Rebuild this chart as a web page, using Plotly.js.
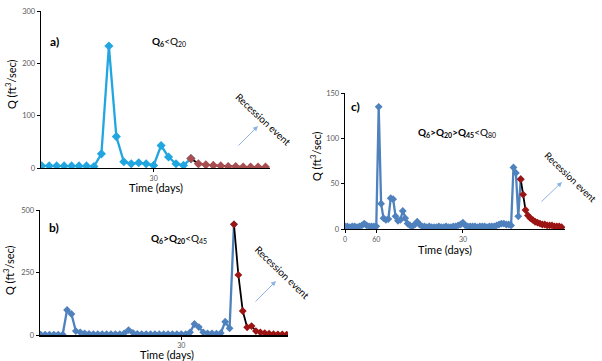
<!DOCTYPE html>
<html>
<head>
<meta charset="utf-8">
<script src="https://cdn.plot.ly/plotly-3.0.1.min.js"></script>
<style>
  html, body { margin: 0; padding: 0; background: #fff; }
  #chart { width: 602px; height: 361px; }
</style>
</head>
<body>
<div id="chart"></div>
<script>
// Daily discharge, ft³/sec, one value per day for each of the three cases
const flowA = [4, 4, 4, 4, 4, 4, 4, 3, 27, 233, 60, 12, 8, 10, 8, 5, 43, 21, 8, 5,
               18, 8, 6, 5, 4, 3, 3, 2, 2, 2, 2];
const flowB = [3, 3, 3, 3, 3, 3, 101, 85, 17, 12, 8, 6, 5, 5, 5, 5, 5, 5, 5, 8,
               21, 10, 6, 5, 5, 5, 5, 5, 5, 5, 5, 5, 5, 5, 12, 45, 33, 12, 8, 8,
               7, 9, 54, 28, 443, 241, 97, 32, 37, 17, 12, 9, 7, 5, 4, 4, 3];
const flowC = [3, 3, 2, 3, 3, 2, 3, 4, 6, 4, 3, 3, 3, 3, 135, 28, 12, 10, 11, 34,
               33, 14, 9, 10, 20, 12, 6, 4, 3, 5, 8, 5, 3, 3, 2, 3, 2, 2, 2, 3,
               2, 2, 3, 2, 2, 3, 3, 4, 5, 7, 4, 3, 3, 3, 3, 2, 3, 3, 3, 2,
               3, 3, 3, 4, 5, 6, 6, 5, 5, 4, 68, 62, 14, 55, 38, 21, 15, 12, 10, 8,
               7, 6, 5, 5, 4, 4, 4, 3, 3, 3, 2];

// Day on which the recession limb begins in each case
const recessionStartA = 20;
const recessionStartB = 44;
const recessionStartC = 73;

// Tick positions (day index) and their labels
const tickDaysA = [15];
const tickTextA = ['30'];
const tickDaysB = [32];
const tickTextB = ['30'];
const tickDaysC = [0, 13, 49];
const tickTextC = ['0', '60', '30'];

const yTicksA = [0, 100, 200, 300];
const yTicksB = [0, 250, 500];
const yTicksC = [0, 50, 100, 150];

const W = 602, H = 361;
const px = x => x / W;
const py = y => 1 - y / H;

const FONT = 'Lato, "Open Sans", sans-serif';

function splitSeries(values, start) {
  const before = values.map((v, i) => (i <= start ? v : null));
  const after = values.map((v, i) => (i >= start ? v : null));
  return [before, after];
}

function panelTraces(values, start, xa, ya, blue, red, msize) {
  const [rise, recession] = splitSeries(values, start);
  return [
    {
      y: rise, xaxis: xa, yaxis: ya, type: 'scatter', mode: 'lines+markers',
      line: { color: blue, width: 2.3 },
      marker: { symbol: 'diamond', size: msize, color: blue },
      hoverinfo: 'skip', showlegend: false
    },
    {
      y: recession, xaxis: xa, yaxis: ya, type: 'scatter', mode: 'lines+markers',
      line: { color: '#000000', width: 1.8 },
      marker: { symbol: 'diamond', size: msize, color: red },
      hoverinfo: 'skip', showlegend: false
    }
  ];
}

const blueA = '#22A6E0', redA = '#A84E50';
const blueBC = '#4F81BD', redBC = '#9C1414';

const data = [
  ...panelTraces(flowA, recessionStartA, 'x', 'y', blueA, redA, 7),
  ...panelTraces(flowB, recessionStartB, 'x2', 'y2', blueBC, redBC, 6),
  ...panelTraces(flowC, recessionStartC, 'x3', 'y3', blueBC, redBC, 6)
];

function xAxis(domain, range, tickvals, ticktext, anchor) {
  return {
    domain, range, anchor, tickmode: 'array', tickvals, ticktext,
    showgrid: false, zeroline: false, showline: true, linecolor: '#000', linewidth: 1.3,
    ticks: 'outside', ticklen: 3, tickwidth: 1, tickcolor: '#000',
    tickfont: { family: FONT, size: 7, color: '#595959' }, fixedrange: true
  };
}
function yAxis(domain, range, tickvals, anchor) {
  return {
    domain, range, anchor, tickmode: 'array', tickvals,
    showgrid: false, zeroline: false, showline: true, linecolor: '#000', linewidth: 1.3,
    ticks: 'outside', ticklen: 3, tickwidth: 1, tickcolor: '#000',
    tickfont: { family: FONT, size: 7.5, color: '#595959' }, fixedrange: true
  };
}

function label(text, x, y, size, extra) {
  return Object.assign({
    text, xref: 'paper', yref: 'paper', x: px(x), y: py(y),
    xanchor: 'center', yanchor: 'middle', showarrow: false,
    font: { family: FONT, size, color: '#000' }
  }, extra || {});
}
function arrow(x0, y0, x1, y1) {
  return {
    text: '', xref: 'paper', yref: 'paper', x: px(x1), y: py(y1),
    ax: x0 - x1, ay: y0 - y1, showarrow: true,
    arrowhead: 2, arrowsize: 1, arrowwidth: 1, arrowcolor: '#8DB3E2'
  };
}

const annotations = [
  // panel letters
  label('<b>a)</b>', 54, 41, 12),
  label('<b>b)</b>', 54, 227, 12),
  label('<b>c)</b>', 355, 106, 12),
  // flow-class conditions
  label('<b>Q<sub>6</sub></b>&lt;Q<sub>20</sub>', 169, 41, 10),
  label('<b>Q<sub>6</sub>&gt;Q<sub>20</sub></b>&lt;Q<sub>45</sub>', 179, 238, 10),
  label('<b>Q<sub>6</sub>&gt;Q<sub>20</sub>&gt;Q<sub>45</sub></b>&lt;Q<sub>80</sub>', 457, 132, 10),
  // axis titles
  label('Time (days)', 156, 187.5, 11),
  label('Time (days)', 167, 354, 11),
  label('Time (days)', 445, 249, 11),
  label('Q (ft<sup>3</sup>/sec)', 10, 84, 11, { textangle: -90 }),
  label('Q (ft<sup>3</sup>/sec)', 8, 270, 11, { textangle: -90 }),
  label('Q (ft<sup>3</sup>/sec)', 315, 156, 11, { textangle: -90 }),
  // recession notes
  label('Recession event', 263, 119, 10, { textangle: 43 }),
  label('Recession event', 282, 272, 10, { textangle: 44 }),
  label('Recession event', 571, 177, 9.5, { textangle: 44 }),
  arrow(237, 147, 258, 126),
  arrow(254, 303, 276, 281),
  arrow(540, 203, 562, 182)
];

const layout = {
  width: W, height: H,
  margin: { l: 0, r: 0, t: 0, b: 0 },
  paper_bgcolor: '#fff', plot_bgcolor: 'rgba(0,0,0,0)',
  showlegend: false,
  xaxis: xAxis([px(41), px(270)], [-0.1, 30.6], tickDaysA, tickTextA, 'y'),
  yaxis: yAxis([py(168), py(11)], [0, 300], yTicksA, 'x'),
  xaxis2: xAxis([px(40), px(288)], [-0.16, 56.3], tickDaysB, tickTextB, 'y2'),
  yaxis2: yAxis([py(335.3), py(210)], [0, 500], yTicksB, 'x2'),
  xaxis3: xAxis([px(345), px(565)], [0, 91.4], tickDaysC, tickTextC, 'y3'),
  yaxis3: yAxis([py(229), py(93.3)], [0, 150], yTicksC, 'x3'),
  annotations
};

Plotly.newPlot('chart', data, layout, { staticPlot: true, displayModeBar: false });
</script>
</body>
</html>
